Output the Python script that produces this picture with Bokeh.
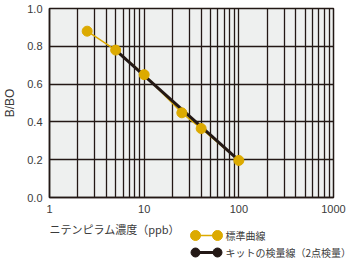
from bokeh.plotting import figure
from bokeh.layouts import column
from bokeh.models import FixedTicker, NumeralTickFormatter, PrintfTickFormatter, Range1d, Label
from bokeh.embed import file_html
from bokeh.resources import INLINE

# ---- data ----
conc = [2.5, 5, 10, 25, 40, 100]
bb0 = [0.88, 0.78, 0.65, 0.448, 0.365, 0.196]
kit_conc = [5, 100]
kit_bb0 = [0.78, 0.196]
x_ticks = [1, 10, 100, 1000]
x_minor = [2, 3, 4, 5, 6, 7, 8, 9, 20, 30, 40, 50, 60, 70, 80, 90,
           200, 300, 400, 500, 600, 700, 800, 900]
y_ticks = [0.0, 0.2, 0.4, 0.6, 0.8, 1.0]
series_names = ["標準曲線", "キットの検量線（2点検量）"]
x_title = "ニテンピラム濃度（ppb）"
y_title = "B/BO"

YEL = "#dcaa00"
DARK = "#231815"
TXT = "#3a3a3a"
JP = "Noto Sans CJK JP"
NUM = "Liberation Sans"

p = figure(width=352, height=218, x_axis_type="log",
           x_range=Range1d(1, 1000), y_range=Range1d(0, 1),
           toolbar_location=None, output_backend="svg",
           min_border_left=48, min_border_right=19,
           min_border_top=8, min_border_bottom=21)
p.background_fill_color = "#eef0ef"
p.border_fill_color = "white"
p.outline_line_color = DARK
p.outline_line_width = 1.5

p.xaxis.ticker = FixedTicker(ticks=x_ticks, minor_ticks=x_minor)
p.xaxis.formatter = NumeralTickFormatter(format="0")
p.yaxis.ticker = FixedTicker(ticks=y_ticks)
p.yaxis.formatter = PrintfTickFormatter(format="%.1f")
for ax in (p.xaxis, p.yaxis):
    ax.major_tick_line_color = None
    ax.minor_tick_line_color = None
    ax.major_tick_out = 0
    ax.major_tick_in = 0
    ax.minor_tick_out = 0
    ax.minor_tick_in = 0
    ax.axis_line_color = DARK
    ax.axis_line_width = 1.5
    ax.major_label_text_font = NUM
    ax.major_label_text_font_size = "11px"
    ax.major_label_text_color = TXT
    ax.major_label_standoff = 7
p.yaxis.axis_label = y_title
p.yaxis.axis_label_text_font = NUM
p.yaxis.axis_label_text_font_style = "normal"
p.yaxis.axis_label_text_font_size = "12px"
p.yaxis.axis_label_text_color = TXT
p.yaxis.axis_label_standoff = 7

p.xgrid.grid_line_color = DARK
p.xgrid.grid_line_width = 1.3
p.xgrid.minor_grid_line_color = DARK
p.xgrid.minor_grid_line_width = 1.3
p.ygrid.grid_line_color = DARK
p.ygrid.grid_line_width = 1.3

p.line(conc, bb0, line_color=YEL, line_width=1.5)
p.line(kit_conc, kit_bb0, line_color=DARK, line_width=3)
p.scatter(conc, bb0, size=10, fill_color=YEL, line_color=YEL)

# ---- bottom strip: x title + legend (identity pixel mapping) ----
leg = figure(width=352, height=44, x_range=Range1d(0, 352), y_range=Range1d(44, 0),
             x_axis_type=None, y_axis_type=None, toolbar_location=None,
             output_backend="svg", min_border=0, frame_align=False)
leg.grid.visible = False
leg.outline_line_color = None
leg.background_fill_color = "white"

leg.add_layout(Label(x=49, y=10, text=x_title, text_font=JP, text_font_size="11px",
                     text_color=TXT, text_baseline="middle", text_align="left"))

leg.line([195, 217], [17, 17], line_color=YEL, line_width=1.5)
leg.scatter([195, 217], [17, 17], size=10, fill_color=YEL, line_color=YEL)
leg.line([195, 217], [34, 34], line_color=DARK, line_width=3)
leg.scatter([195, 217], [34, 34], size=9, fill_color=DARK, line_color=DARK)
for yy, name in zip([17, 34], series_names):
    leg.add_layout(Label(x=225, y=yy, text=name, text_font=JP, text_font_size="10px",
                         text_color=TXT, text_baseline="middle", text_align="left"))

layout = column(p, leg, spacing=0)
open("out.html", "w").write(file_html(layout, INLINE))
